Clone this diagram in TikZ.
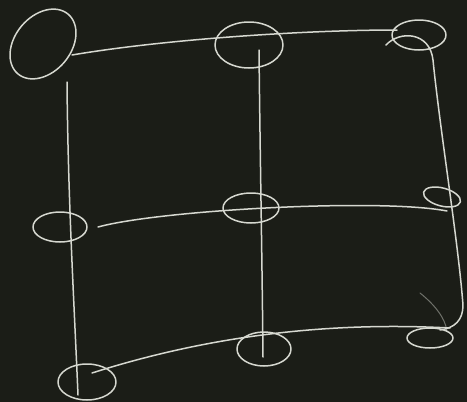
\documentclass[tikz,border=0pt]{standalone}
\usetikzlibrary{shapes.geometric}
\definecolor{lavagna}{RGB}{27,29,23}
\definecolor{gesso}{RGB}{214,216,208}
\tikzset{
  gessetto/.style={draw=gesso, line width=1.5pt, line cap=round, line join=round},
  nodo/.style={gessetto, ellipse, inner sep=0pt},
}
\begin{document}
\begin{tikzpicture}[x=1pt, y=-1pt]
        % Lavagna
        \fill[lavagna] (0,0) rectangle (467,402);
        \useasboundingbox (0,0) rectangle (467,402);

        % Nodi (griglia 3x3)
        \node[nodo, minimum width=78pt, minimum height=56pt, rotate=50] (n11) at (43,44) {};
        \node[nodo, minimum width=68pt, minimum height=46pt] (n12) at (249,45) {};
        \node[nodo, minimum width=54pt, minimum height=30pt] (n13) at (419,35) {};
        \node[nodo, minimum width=54pt, minimum height=30pt] (n21) at (60,227) {};
        \node[nodo, minimum width=56pt, minimum height=30pt] (n22) at (251,208) {};
        \node[nodo, minimum width=38pt, minimum height=18pt, rotate=-15] (n23) at (442,197) {};
        \node[nodo, minimum width=58pt, minimum height=36pt] (n31) at (87,382) {};
        \node[nodo, minimum width=54pt, minimum height=34pt] (n32) at (264,349) {};
        \node[nodo, minimum width=46pt, minimum height=20pt] (n33) at (430,338) {};

        % Estremi dei tratti
        \coordinate (top-a) at (72,55);
        \coordinate (top-b) at (397,30);
        \coordinate (mid-a) at (98,227);
        \coordinate (mid-b) at (447,211);
        \coordinate (bot-a) at (92,373);
        \coordinate (bot-b) at (450,328);
        \coordinate (sx-a) at (67,82);
        \coordinate (sx-b) at (78,395);
        \coordinate (cx-a) at (259,50);
        \coordinate (cx-b) at (263,357);
        \coordinate (dx-a) at (386,45);
        \coordinate (dx-b) at (440,330);

        % Righe
        \draw[gessetto] (top-a) .. controls (160,40) and (300,30) .. (top-b);
        \draw[gessetto] (mid-a) .. controls (160,210) and (380,198) .. (mid-b);
        \draw[gessetto] (bot-a) .. controls (180,345) and (300,320) .. (bot-b);

        % Colonne
        \draw[gessetto] (sx-a) .. controls (68,200) and (74,300) .. (sx-b);
        \draw[gessetto] (cx-a) .. controls (260,150) and (262,250) .. (cx-b);
        \draw[gessetto] (dx-a) .. controls (400,30) and (430,32) .. (433,60)
            .. controls (440,130) and (458,240) .. (463,305)
            .. controls (463,320) and (455,328) .. (dx-b);

        % Tratto leggero
        \draw[gessetto, opacity=0.45, line width=1pt] (420,293) .. controls (435,305) and (445,318) .. (n33.north east);
\end{tikzpicture}
\end{document}
